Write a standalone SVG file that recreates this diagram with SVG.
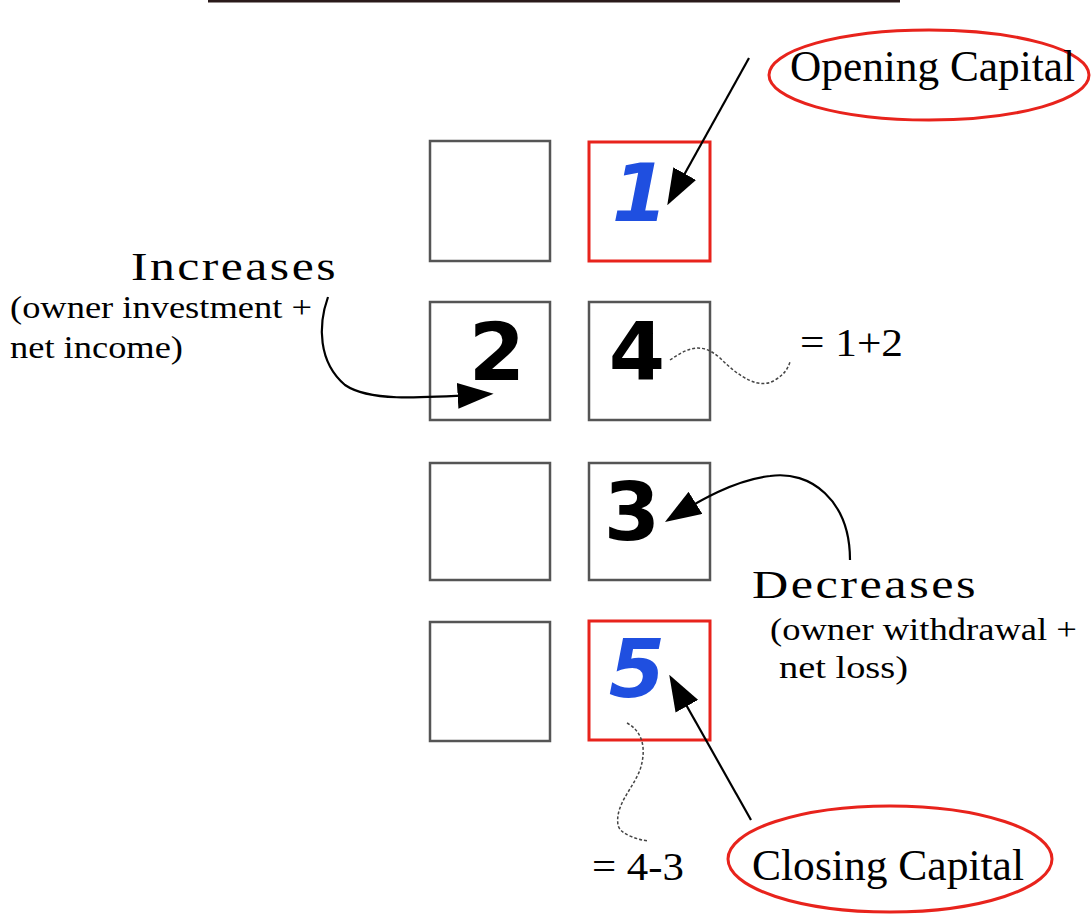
<svg xmlns="http://www.w3.org/2000/svg" width="1092" height="914" viewBox="0 0 1092 914">
<style>
.box{fill:#fff;stroke:#555;stroke-width:2.5}
.rbox{fill:#fff;stroke:#e8231c;stroke-width:3}
.num{font-family:"DejaVu Sans",sans-serif;font-weight:bold;font-size:81px;fill:#000}
.blue{fill:#1f4fe0;font-style:oblique}
.lbl{font-family:"Liberation Serif",serif;fill:#000}
.big{font-size:40px;letter-spacing:2px}
.sub{font-size:31px}
.conn{fill:none;stroke:#000;stroke-width:2.2}
.wavy{fill:none;stroke:#444;stroke-width:1.5;stroke-dasharray:3 2}
.ell{fill:none;stroke:#e8231c;stroke-width:3}
</style>
<defs>
<marker id="ahb" viewBox="0 0 10 10" refX="9" refY="5" markerWidth="36" markerHeight="26" markerUnits="userSpaceOnUse" orient="auto" preserveAspectRatio="none">
<path d="M0,0 L10,5 L0,10 z" fill="#000"/>
</marker>
</defs>
<rect width="1092" height="914" fill="#fff"/>
<line x1="208" y1="1" x2="900" y2="1" stroke="#2a1a1a" stroke-width="3"/>

<g id="box-l1"><rect class="box" x="430" y="141" width="120" height="120"/></g>
<g id="box-1"><rect class="rbox" x="589" y="142" width="121" height="119"/><text class="num blue" x="640" y="221" text-anchor="middle">1</text></g>
<g id="box-2"><rect class="box" x="430" y="302" width="120" height="118"/><text class="num" x="497" y="380" text-anchor="middle">2</text></g>
<g id="box-4"><rect class="box" x="589" y="302" width="121" height="118"/><text class="num" x="637" y="380" text-anchor="middle">4</text></g>
<g id="box-l3"><rect class="box" x="430" y="463" width="120" height="117"/></g>
<g id="box-3"><rect class="box" x="589" y="463" width="121" height="117"/><text class="num" x="632" y="540" text-anchor="middle">3</text></g>
<g id="box-l5"><rect class="box" x="430" y="622" width="120" height="119"/></g>
<g id="box-5"><rect class="rbox" x="589" y="621" width="121" height="119"/><text class="num blue" x="637" y="697" text-anchor="middle">5</text></g>

<g id="opening">
<ellipse class="ell" cx="929" cy="75" rx="160" ry="45"/>
<text class="lbl" x="790" y="81" font-size="44" textLength="285" lengthAdjust="spacingAndGlyphs">Opening Capital</text>
</g>
<g id="closing">
<ellipse class="ell" cx="890" cy="859" rx="162" ry="53"/>
<text class="lbl" x="752" y="880" font-size="44" textLength="272" lengthAdjust="spacingAndGlyphs">Closing Capital</text>
</g>
<g id="increases">
<text class="lbl big" x="131" y="280" textLength="207" lengthAdjust="spacingAndGlyphs">Increases</text>
<text class="lbl sub" x="10" y="318" textLength="302" lengthAdjust="spacingAndGlyphs">(owner investment +</text>
<text class="lbl sub" x="10" y="358" textLength="173" lengthAdjust="spacingAndGlyphs">net income)</text>
</g>
<g id="decreases">
<text class="lbl big" x="752" y="598" textLength="226" lengthAdjust="spacingAndGlyphs">Decreases</text>
<text class="lbl sub" x="770" y="640" textLength="307" lengthAdjust="spacingAndGlyphs">(owner withdrawal +</text>
<text class="lbl sub" x="779" y="678" textLength="129" lengthAdjust="spacingAndGlyphs">net loss)</text>
</g>
<g id="eq12"><text class="lbl" x="800" y="356" font-size="40" textLength="103" lengthAdjust="spacingAndGlyphs">= 1+2</text></g>
<g id="eq43"><text class="lbl" x="592" y="880" font-size="40" textLength="92" lengthAdjust="spacingAndGlyphs">= 4-3</text></g>

<g id="connectors">
<path class="conn" d="M749,58 L669,202" marker-end="url(#ahb)"/>
<path class="conn" d="M328,297 C318,325 318,362 345,385 C370,402 420,398 490,394" marker-end="url(#ahb)"/>
<path class="conn" d="M850,560 C850,500 810,470 770,476 C735,480 700,500 668,520" marker-end="url(#ahb)"/>
<path class="conn" d="M751,820 L671,678" marker-end="url(#ahb)"/>
<path class="wavy" d="M670,360 C685,350 700,340 720,358 C740,378 760,390 775,380 C785,374 788,368 790,362"/>
<path class="wavy" d="M627,723 C640,730 648,745 640,770 C632,790 615,805 618,825 C620,835 640,840 648,841"/>
</g>
</svg>
